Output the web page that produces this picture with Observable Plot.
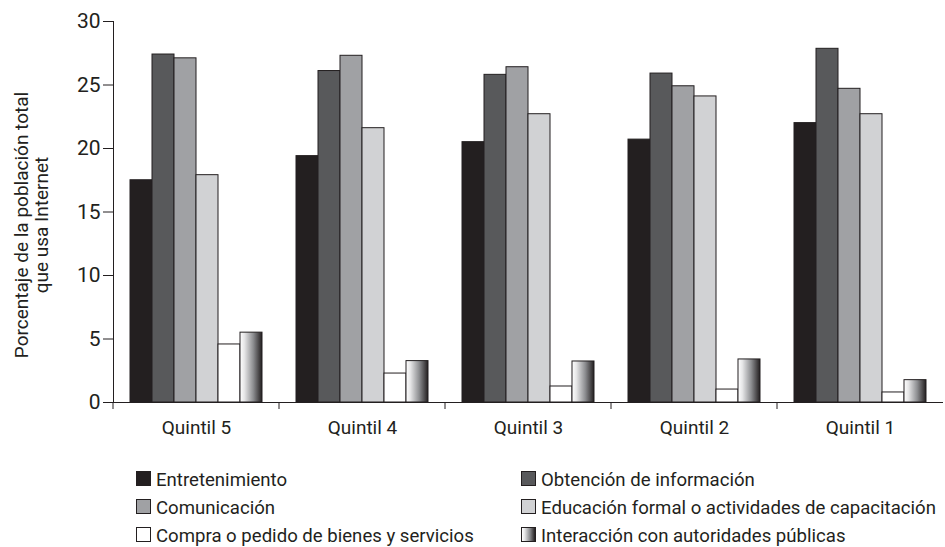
<!DOCTYPE html>
<html><head><meta charset="utf-8">
<script src="https://cdn.jsdelivr.net/npm/d3@7"></script>
<script src="https://cdn.jsdelivr.net/npm/@observablehq/plot@0.6"></script>
<style>
body{margin:0;background:#fff;}
#chart{width:945px;height:547px;position:relative;overflow:hidden;font-family:Roboto,"Liberation Sans",sans-serif;color:#231f20;}
#chart svg{display:block;}
.legend{display:grid;grid-template-columns:385px auto;margin-left:136px;padding-top:14px;font-size:18.6px;line-height:28px;}
.item{white-space:nowrap;}
.sw{display:inline-block;width:13px;height:13px;border:1px solid #231f20;margin-right:5px;vertical-align:baseline;}
</style></head>
<body><div id="chart"></div>
<script>
const quintiles = ["Quintil 5","Quintil 4","Quintil 3","Quintil 2","Quintil 1"];
const series = ["Entretenimiento","Obtención de información","Comunicación","Educación formal o actividades de capacitación","Compra o pedido de bienes y servicios","Interacción con autoridades públicas"];
const entretenimiento = [17.5, 19.4, 20.5, 20.7, 22.0];
const obtencion = [27.4, 26.1, 25.8, 25.9, 27.85];
const comunicacion = [27.1, 27.3, 26.4, 24.9, 24.7];
const educacion = [17.9, 21.6, 22.7, 24.1, 22.7];
const compra = [4.57, 2.28, 1.26, 1.02, 0.79];
const interaccion = [5.5, 3.26, 3.23, 3.39, 1.76];
const yTicks = [0, 5, 10, 15, 20, 25, 30];
const yLabel = "Porcentaje de la población total\nque usa Internet";
const fills = ["#231f20", "#58595b", "#a0a1a4", "#d1d2d4", "#ffffff", "url(#gradInter)"];
const swatchCss = ["#231f20", "#58595b", "#a0a1a4", "#d1d2d4", "#ffffff",
  "linear-gradient(to right,#ffffff 0%,#e6e6e7 20%,#8d8e91 60%,#231f20 100%)"];

const valuesBySeries = [entretenimiento, obtencion, comunicacion, educacion, compra, interaccion];
const data = [];
quintiles.forEach((q, qi) => series.forEach((s, si) => data.push({quintil: q, serie: s, valor: valuesBySeries[si][qi]})));

const ink = "#231f20";

function boundaryTicks(index, scales, values, dimensions) {
  const y0 = scales.y(0);
  const x0 = dimensions.marginLeft;
  return d3.create("svg:line")
    .attr("x1", x0).attr("x2", x0).attr("y1", y0).attr("y2", y0 + 7)
    .attr("stroke", ink).attr("stroke-width", 1).node();
}

const plot = Plot.plot({
  width: 945,
  height: 452,
  marginLeft: 111,
  marginRight: 0,
  marginTop: 21,
  marginBottom: 50,
  style: {fontSize: "19px", fontFamily: 'Roboto,"Liberation Sans",sans-serif', color: ink, background: "#fff"},
  fx: {domain: quintiles, padding: 0, label: null},
  x: {domain: series, paddingInner: 0, paddingOuter: 0.73, axis: null},
  y: {domain: [0, 30], label: null},
  color: {domain: series, range: fills},
  marks: [
    Plot.barY(data, {fx: "quintil", x: "serie", y: "valor", fill: "serie", stroke: ink, strokeWidth: 1, inset: 0}),
    Plot.ruleY([0], {stroke: ink, strokeWidth: 1}),
    boundaryTicks,
    Plot.frame({anchor: "left", facetAnchor: "left", stroke: ink, strokeWidth: 1}),
    Plot.axisY({ticks: yTicks, tickSize: 10, tickPadding: 3, label: null, stroke: ink, fill: ink, fontSize: 21}),
    Plot.text([yLabel], {frameAnchor: "left", facetAnchor: "left", rotate: -90, textAnchor: "middle", lineAnchor: "top", lineHeight: 1.05, dx: -100, dy: 13, fill: ink, fontSize: 19}),
    Plot.axisFx({anchor: "bottom", tickSize: 0, tickPadding: 17.5, label: null, fill: ink, fontSize: 19})
  ]
});

const svg = d3.select(plot);
const grad = svg.insert("defs", ":first-child").append("linearGradient")
  .attr("id", "gradInter").attr("x1", "0").attr("x2", "1").attr("y1", "0").attr("y2", "0");
[[0, "#ffffff"], [0.2, "#e6e6e7"], [0.6, "#8d8e91"], [1, "#231f20"]].forEach(([o, c]) =>
  grad.append("stop").attr("offset", o).attr("stop-color", c));

const chart = document.getElementById("chart");
chart.appendChild(plot);

const legend = document.createElement("div");
legend.className = "legend";
series.forEach((s, i) => {
  const item = document.createElement("div");
  item.className = "item";
  const sw = document.createElement("span");
  sw.className = "sw";
  sw.style.background = swatchCss[i];
  item.appendChild(sw);
  item.appendChild(document.createTextNode(s));
  legend.appendChild(item);
});
chart.appendChild(legend);
</script>
</body></html>
